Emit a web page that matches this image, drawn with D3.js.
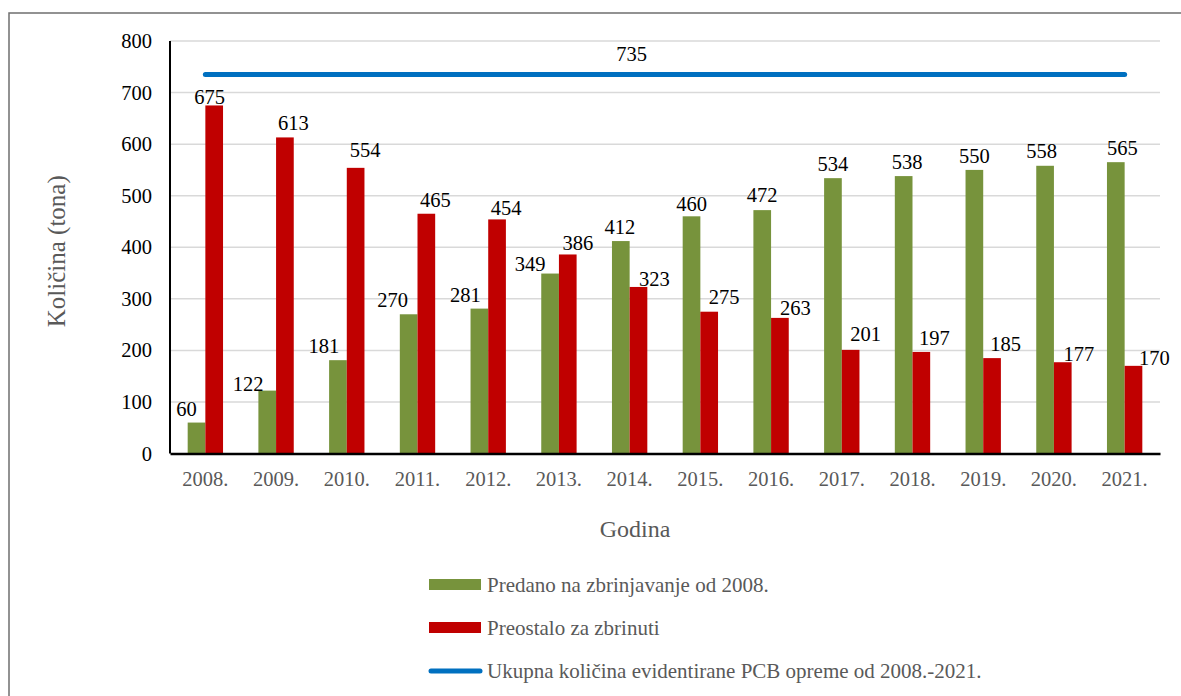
<!DOCTYPE html>
<html>
<head>
<meta charset="utf-8">
<script src="https://cdn.jsdelivr.net/npm/d3@7"></script>
<style>
  html, body { margin: 0; padding: 0; background: #fff; }
  svg { display: block; font-family: "Liberation Serif", "Times New Roman", serif; }
  svg text { font-family: "Liberation Serif", "Times New Roman", serif; }
</style>
</head>
<body>
<svg id="chart" width="1181" height="696"></svg>
<script>
// ---------- DATA ----------
const years = ["2008.", "2009.", "2010.", "2011.", "2012.", "2013.", "2014.", "2015.", "2016.", "2017.", "2018.", "2019.", "2020.", "2021."];
const predano = [60, 122, 181, 270, 281, 349, 412, 460, 472, 534, 538, 550, 558, 565];
const preostalo = [675, 613, 554, 465, 454, 386, 323, 275, 263, 201, 197, 185, 177, 170];
const ukupno = [735, 735, 735, 735, 735, 735, 735, 735, 735, 735, 735, 735, 735, 735];
const yTicks = [0, 100, 200, 300, 400, 500, 600, 700, 800];
const seriesNames = ["Predano na zbrinjavanje od 2008.", "Preostalo za zbrinuti", "Ukupna količina evidentirane PCB opreme od 2008.-2021."];
const yTitle = "Količina (tona)";
const xTitle = "Godina";

// ---------- LAYOUT ----------
const W = 1181, H = 696;
const plot = { left: 170, right: 1160, top: 41, bottom: 453.5 };
const colors = { green: "#77933C", red: "#C00000", blue: "#0070C0", grid: "#D9D9D9", gray: "#595959" };
// hand-placed label offsets as in the original (px, relative to bar top centre)
const greenNudge = [[-10,-7],[-19,0],[-14,-7],[-16,-7],[-14,-7],[-20,-3],[-1,-7],[0,-5],[0,-8],[0,-7],[3.5,-7],[0,-7],[-3.5,-8],[6.5,-7]];
const redNudge = [[-4.5,-1],[8.5,-7],[9.5,-11],[9,-7],[9,-4],[10,-4],[16,-1],[15,-8],[15.5,-3],[15,-9],[13,-7],[13.5,-7],[16,-1],[21,-1]];

const svg = d3.select("#chart");

// outer border (left & top visible)
svg.append("rect").attr("x", 9).attr("y", 13).attr("width", 1200).attr("height", 720)
  .attr("fill", "none").attr("stroke", "#6f6f6f").attr("stroke-width", 1.5);

const x0 = d3.scaleBand().domain(years).range([plot.left, plot.right]).padding(0);
const bw = x0.bandwidth();
const x1 = d3.scaleBand().domain(["g", "r"]).range([bw * 0.25, bw * 0.75]).padding(0);
const y = d3.scaleLinear().domain([0, 800]).range([plot.bottom, plot.top]);

// gridlines
svg.append("g").selectAll("line").data(yTicks.filter(d => d > 0)).join("line")
  .attr("x1", plot.left).attr("x2", plot.right)
  .attr("y1", d => y(d)).attr("y2", d => y(d))
  .attr("stroke", colors.grid).attr("stroke-width", 1.5);

// y tick labels
const yAxis = d3.axisLeft(y).tickValues(yTicks).tickSize(0).tickPadding(18);
const gy = svg.append("g").attr("transform", `translate(${plot.left},0)`).call(yAxis)
  .attr("font-family", null).attr("font-size", null);
gy.select(".domain").remove();
gy.selectAll("text").attr("font-size", 20.5).attr("fill", "#000");

// bars
const gBars = svg.append("g");
gBars.selectAll("rect.g").data(predano).join("rect").attr("class", "g")
  .attr("x", (d, i) => x0(years[i]) + x1("g")).attr("width", x1.bandwidth())
  .attr("y", d => y(d)).attr("height", d => y(0) - y(d)).attr("fill", colors.green);
gBars.selectAll("rect.r").data(preostalo).join("rect").attr("class", "r")
  .attr("x", (d, i) => x0(years[i]) + x1("r")).attr("width", x1.bandwidth())
  .attr("y", d => y(d)).attr("height", d => y(0) - y(d)).attr("fill", colors.red);

// axes lines
svg.append("line").attr("x1", plot.left).attr("x2", plot.left).attr("y1", plot.top).attr("y2", plot.bottom)
  .attr("stroke", "#000").attr("stroke-width", 2);
const xAxis = d3.axisBottom(x0).tickSize(0).tickPadding(18);
const gx = svg.append("g").attr("transform", `translate(0,${plot.bottom})`).call(xAxis)
  .attr("font-family", null).attr("font-size", null);
gx.select(".domain").attr("stroke", "#000").attr("stroke-width", 2.5);
gx.selectAll("text").attr("font-size", 20.5).attr("fill", colors.gray);

// total line
const line = d3.line().x((d, i) => x0(years[i]) + bw / 2).y(d => y(d));
svg.append("path").datum(ukupno).attr("d", line).attr("fill", "none")
  .attr("stroke", colors.blue).attr("stroke-width", 5).attr("stroke-linecap", "round");
svg.append("text").attr("x", x0(years[6]) + bw / 2 + 2).attr("y", y(ukupno[6]) - 14)
  .attr("text-anchor", "middle").attr("font-size", 20.5).attr("fill", "#000").text(ukupno[6]);

// value labels
const gL = svg.append("g").attr("font-size", 20.5).attr("fill", "#000").attr("text-anchor", "middle");
gL.selectAll("text.g").data(predano).join("text").attr("class", "g")
  .attr("x", (d, i) => x0(years[i]) + x1("g") + x1.bandwidth() / 2 + greenNudge[i][0])
  .attr("y", (d, i) => y(d) + greenNudge[i][1]).text(d => d);
gL.selectAll("text.r").data(preostalo).join("text").attr("class", "r")
  .attr("x", (d, i) => x0(years[i]) + x1("r") + x1.bandwidth() / 2 + redNudge[i][0])
  .attr("y", (d, i) => y(d) + redNudge[i][1]).text(d => d);

// axis titles
svg.append("text").attr("transform", `translate(56,${(plot.top + plot.bottom) / 2 + 4}) rotate(-90)`)
  .attr("text-anchor", "middle").attr("dominant-baseline", "central")
  .attr("font-size", 25).attr("fill", colors.gray).text(yTitle);
svg.append("text").attr("x", 635).attr("y", 537).attr("text-anchor", "middle")
  .attr("font-size", 24).attr("fill", colors.gray).text(xTitle);

// legend
const legend = svg.append("g").attr("transform", "translate(429,0)");
const rows = [584.5, 627.5, 671];
seriesNames.forEach((name, i) => {
  if (i < 2) {
    legend.append("rect").attr("x", 0).attr("y", rows[i] - 5.5).attr("width", 52).attr("height", 11)
      .attr("fill", i === 0 ? colors.green : colors.red);
  } else {
    legend.append("line").attr("x1", 2).attr("x2", 51).attr("y1", rows[i]).attr("y2", rows[i])
      .attr("stroke", colors.blue).attr("stroke-width", 5).attr("stroke-linecap", "round");
  }
  legend.append("text").attr("x", 58).attr("y", rows[i] + 7).attr("font-size", 21)
    .attr("fill", colors.gray).text(name);
});
</script>
</body>
</html>
